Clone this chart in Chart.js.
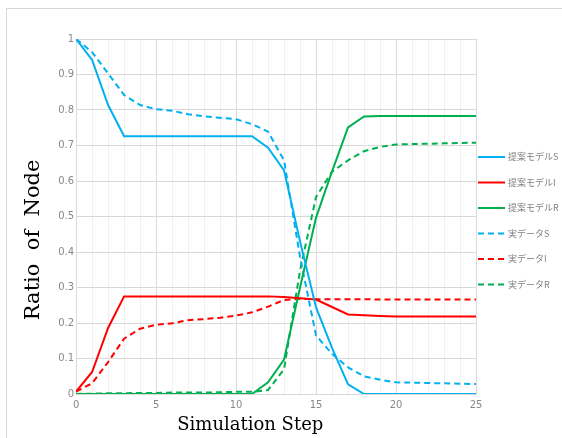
<!DOCTYPE html>
<html lang="ja">
<head>
  <meta charset="UTF-8">
  <title>Ratio of Node</title>
  <script src="https://cdn.jsdelivr.net/npm/chart.js"></script>
  <style>
    body {
      margin: 0;
      background-color: white;
      overflow: hidden;
    }

    .frame {
      position: absolute;
      left: 6px;
      top: 8px;
      width: 600px;
      height: 500px;
      border: 1px solid #d9d9d9;
    }

    .wrap {
      position: absolute;
      left: 0;
      top: 0;
      width: 562px;
      height: 438px;
    }
  </style>
</head>
<body>
  <div class="frame"></div>
  <div class="wrap">
    <canvas id="chart" width="562" height="438"></canvas>
  </div>

  <script>
    // シミュレーションステップ
    const steps = [0, 1, 2, 3, 4, 5, 6, 7, 8, 9, 10, 11, 12, 13, 14, 15, 16, 17, 18, 19, 20, 21, 22, 23, 24, 25];

    // 提案モデル
    const modelS = [1.0, 0.941, 0.814, 0.726, 0.726, 0.726, 0.726, 0.726, 0.726, 0.726, 0.726, 0.726, 0.694, 0.630, 0.430, 0.244, 0.130, 0.027, 0, 0, 0, 0, 0, 0, 0, 0];
    const modelI = [0.007, 0.062, 0.186, 0.275, 0.275, 0.275, 0.275, 0.275, 0.275, 0.275, 0.275, 0.275, 0.275, 0.273, 0.270, 0.266, 0.245, 0.224, 0.222, 0.220, 0.218, 0.218, 0.218, 0.218, 0.218, 0.218];
    const modelR = [0, 0, 0, 0, 0, 0, 0, 0, 0, 0, 0, 0, 0.033, 0.097, 0.300, 0.497, 0.627, 0.751, 0.782, 0.783, 0.783, 0.783, 0.783, 0.783, 0.783, 0.783];

    // 実データ
    const realS = [1.0, 0.963, 0.903, 0.842, 0.814, 0.802, 0.798, 0.788, 0.782, 0.778, 0.774, 0.760, 0.739, 0.658, 0.386, 0.165, 0.113, 0.075, 0.050, 0.040, 0.033, 0.032, 0.031, 0.030, 0.029, 0.028];
    const realI = [0.007, 0.030, 0.090, 0.156, 0.184, 0.195, 0.199, 0.208, 0.211, 0.215, 0.221, 0.230, 0.246, 0.265, 0.268, 0.267, 0.267, 0.267, 0.267, 0.266, 0.266, 0.266, 0.266, 0.266, 0.266, 0.266];
    const realR = [0, 0.001, 0.002, 0.002, 0.003, 0.003, 0.004, 0.004, 0.004, 0.005, 0.006, 0.006, 0.011, 0.070, 0.348, 0.555, 0.626, 0.658, 0.684, 0.696, 0.703, 0.704, 0.705, 0.706, 0.707, 0.708];

    const seriesNames = ['提案モデルS', '提案モデルI', '提案モデルR', '実データS', '実データI', '実データR'];
    const seriesValues = [modelS, modelI, modelR, realS, realI, realR];
    const seriesColors = ['#00b0f0', '#ff0000', '#00b050', '#00b0f0', '#ff0000', '#00b050'];
    const dashed = [false, false, false, true, true, true];

    Chart.defaults.font.family = "'DejaVu Sans', sans-serif";

    function toPoints(values) {
      return steps.map((s, i) => ({ x: s, y: values[i] }));
    }

    // 右側の凡例（線＋ラベル）
    const sideLegend = {
      id: 'sideLegend',
      afterDraw(chart) {
        const ctx = chart.ctx;
        const area = chart.chartArea;
        const x0 = area.right + 2;
        const top = area.top + 118;
        ctx.save();
        chart.data.datasets.forEach((ds, i) => {
          const y = top + i * 25.5;
          ctx.beginPath();
          ctx.setLineDash(ds.borderDash || []);
          ctx.lineWidth = 2;
          ctx.strokeStyle = ds.borderColor;
          ctx.moveTo(x0, y);
          ctx.lineTo(x0 + 27, y);
          ctx.stroke();
          ctx.setLineDash([]);
          ctx.fillStyle = '#7f7f7f';
          ctx.font = "9px 'Noto Sans CJK JP'";
          ctx.textBaseline = 'middle';
          ctx.fillText(ds.label, x0 + 30, y);
        });
        ctx.restore();
      }
    };

    const ctx = document.getElementById('chart').getContext('2d');
    new Chart(ctx, {
      type: 'line',
      data: {
        datasets: seriesNames.map((name, i) => ({
          label: name,
          data: toPoints(seriesValues[i]),
          borderColor: seriesColors[i],
          backgroundColor: seriesColors[i],
          borderWidth: 2,
          borderDash: dashed[i] ? [6, 4] : [],
          pointRadius: 0,
          tension: 0
        }))
      },
      options: {
        responsive: false,
        animation: false,
        layout: {
          padding: { left: 21, top: 39, right: 86, bottom: 4 }
        },
        plugins: {
          legend: { display: false },
          tooltip: { enabled: false }
        },
        scales: {
          x: {
            type: 'linear',
            min: 0,
            max: 25,
            grid: {
              drawTicks: false,
              color: c => (c.tick && c.tick.value % 5 === 0) ? '#d9d9d9' : '#f0f0f0'
            },
            border: { color: '#d9d9d9' },
            ticks: {
              stepSize: 1,
              autoSkip: false,
              maxRotation: 0,
              padding: 6,
              color: '#888888',
              font: { size: 10, lineHeight: 1 },
              callback: v => (v % 5 === 0 ? String(v) : '')
            },
            title: {
              display: true,
              text: 'Simulation Step' + '\u00a0'.repeat(9),
              color: '#000',
              font: { family: "'DejaVu Serif', serif", size: 18, lineHeight: 1 },
              padding: { top: 0, bottom: 0 }
            }
          },
          y: {
            min: 0,
            max: 1,
            grid: {
              drawTicks: false,
              color: '#d9d9d9'
            },
            border: { color: '#d9d9d9' },
            ticks: {
              stepSize: 0.1,
              padding: 2,
              color: '#888888',
              font: { size: 10 },
              callback: v => String(Number(v.toFixed(1)))
            },
            title: {
              display: true,
              text: 'Ratio  of  Node' + '\u00a0'.repeat(7),
              color: '#000',
              font: { family: "'DejaVu Serif', serif", size: 21 },
              padding: { top: 0, bottom: 10 }
            }
          }
        }
      },
      plugins: [sideLegend]
    });
  </script>
</body>
</html>
